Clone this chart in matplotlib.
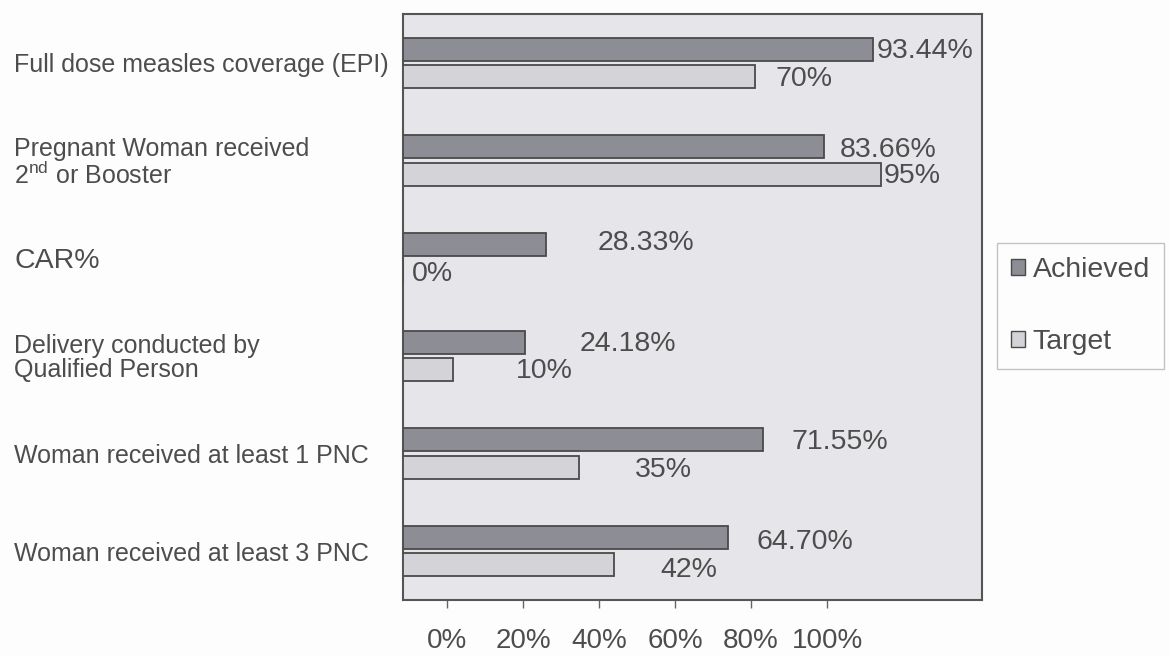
import matplotlib
matplotlib.use("Agg")
import matplotlib.pyplot as plt
from matplotlib.patches import Patch
from matplotlib.ticker import PercentFormatter

plt.rcParams["font.family"] = ["Liberation Sans", "DejaVu Sans"]
plt.rcParams["mathtext.fontset"] = "custom"
plt.rcParams["mathtext.rm"] = "Liberation Sans"

# data, top to bottom (fractions)
categories = [
    "Full dose measles coverage (EPI)",
    "Pregnant Woman received\n2$^{\\mathrm{nd}}$ or Booster",
    "CAR%",
    "Delivery conducted by\nQualified Person",
    "Woman received at least 1 PNC",
    "Woman received at least 3 PNC",
]
achieved = [0.9344, 0.8366, 0.2833, 0.2418, 0.7155, 0.6470]
target = [0.70, 0.95, 0.00, 0.10, 0.35, 0.42]
series_names = ["Achieved", "Target"]
tick_values = [0.0, 0.2, 0.4, 0.6, 0.8, 1.0]

# label nudges in pixels (dx right of bar end, dy downward), as placed in the original
ach_offsets = [(4, 2), (16, 3), (52, -1), (55, 2), (29, 2), (28, 5)]
tgt_offsets = [(20, 2), (3, 2), (9, 2), (63, 1), (56, 3), (46, 5)]

TEXT = "#4d4d4d"
EDGE = "#4a4a4a"
ACH_COLOR = "#8d8d95"
TGT_COLOR = "#d3d3d8"
BG = "#e6e6ea"

fig = plt.figure(figsize=(11.69, 6.56), dpi=100, facecolor="#fdfdfd")
ax = fig.add_axes([403 / 1169, 1 - 600 / 656, (982 - 403) / 1169, (600 - 14) / 656])
ax.set_facecolor(BG)

ys = list(range(len(categories)))
bar_h = 0.235
off = 0.14
ax.barh([y - off for y in ys], achieved, height=bar_h, color=ACH_COLOR,
        edgecolor=EDGE, linewidth=1.3, zorder=3)
ax.barh([y + off for y in ys], target, height=bar_h, color=TGT_COLOR,
        edgecolor=EDGE, linewidth=1.3, zorder=3)

px = 72 / fig.dpi
for y, v, (dx, dy) in zip(ys, achieved, ach_offsets):
    ax.annotate(f"{v * 100:.2f}%", xy=(v, y - off), xytext=(dx * px, -dy * px),
                textcoords="offset points", ha="left", va="center",
                fontsize=20.5, color=TEXT, zorder=4)
for y, v, (dx, dy) in zip(ys, target, tgt_offsets):
    ax.annotate(f"{v * 100:.0f}%", xy=(v, y + off), xytext=(dx * px, -dy * px),
                textcoords="offset points", ha="left", va="center",
                fontsize=20.5, color=TEXT, zorder=4)

ax.set_xlim(0, 1.151)
ax.set_ylim(len(categories) - 0.5, -0.5)

# category labels, left aligned at the figure edge
ax.set_yticks(ys)
ax.set_yticklabels(categories, fontsize=18, color=TEXT, linespacing=1.0)
ax.tick_params(axis="y", length=0, pad=389 * px)
for lab in ax.get_yticklabels():
    lab.set_horizontalalignment("left")
ax.get_yticklabels()[2].set_fontsize(20.5)

# the printed percent scale sits offset from the bars, as in the source figure
ax.set_xticks([])
sec = ax.secondary_xaxis("bottom", functions=(lambda x: (x - 0.0875) / 0.7555,
                                               lambda v: v * 0.7555 + 0.0875))
sec.set_xticks(tick_values)
sec.xaxis.set_major_formatter(PercentFormatter(1.0, decimals=0))
sec.tick_params(axis="x", length=6, width=1, color="#666666", labelsize=20,
                labelcolor=TEXT, pad=20 * px)
sec.spines["bottom"].set_visible(False)

for s in ax.spines.values():
    s.set_color("#555555")
    s.set_linewidth(1.5)

handles = [Patch(facecolor=ACH_COLOR, edgecolor=EDGE, linewidth=1),
           Patch(facecolor=TGT_COLOR, edgecolor=EDGE, linewidth=1)]
leg = fig.legend(handles, series_names, loc="upper left",
                 bbox_to_anchor=(997 / 1169, 1 - 243 / 656), fontsize=20.5,
                 frameon=True, fancybox=False, edgecolor="#b5b5b5",
                 handlelength=0.5, handleheight=0.5, handletextpad=0.25,
                 labelspacing=1.6, borderpad=0.5, borderaxespad=0)
leg.get_frame().set_linewidth(1.0)
leg.get_frame().set_facecolor("#fdfdfd")
for t in leg.get_texts():
    t.set_color(TEXT)

fig.savefig("out.png", dpi=100, facecolor=fig.get_facecolor())
